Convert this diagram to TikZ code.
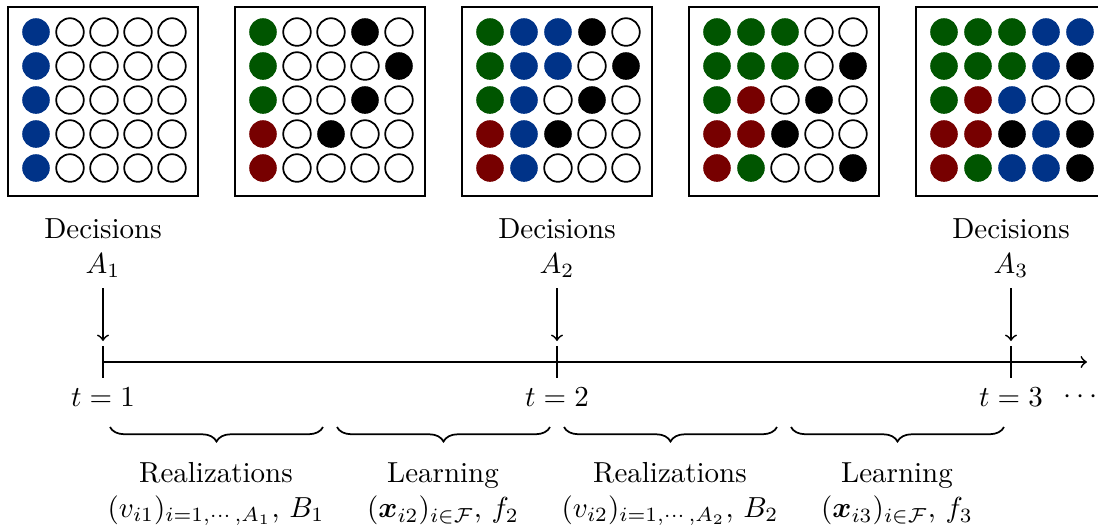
\documentclass[tikz,border=0pt]{standalone}
\usepackage{amsmath , amssymb}
\usepackage{tikz}
\usetikzlibrary{positioning, arrows, decorations.pathreplacing}

\definecolor{dblue}{RGB}{0,51,136}
\definecolor{dgreen}{RGB}{0,85,0}
\definecolor{dred}{RGB}{119,0,0}

\tikzset{
	cb/.style={fill=dblue},
	cg/.style={fill=dgreen},
	cr/.style={fill=dred},
	ck/.style={fill=black},
	co/.style={draw=black, fill=white, line width=0.6pt},
	board/.style={draw=black, line width=0.7pt},
	phase/.style={align=center},
}

% #1 = centre x of the board, #2 = rows of cells
\newcommand{\drawboard}[2]{%
	\draw[board] (#1-95,7) rectangle (#1+95,196);
	\foreach \row [count=\r] in {#2}{
		\foreach \c [count=\k] in \row{
			\path[\c] (#1+34*\k-101, 34*\r-2) circle (4.76pt);
		}
	}
}

\begin{document}
\begin{tikzpicture}[x=0.345pt, y=-0.345pt, semithick]
	\useasboundingbox (0,0) rectangle (1098,527);

	\drawboard{103}{{cb,co,co,co,co},{cb,co,co,co,co},{cb,co,co,co,co},{cb,co,co,co,co},{cb,co,co,co,co}}
	\drawboard{330}{{cg,co,co,ck,co},{cg,co,co,co,ck},{cg,co,co,ck,co},{cr,co,ck,co,co},{cr,co,co,co,co}}
	\drawboard{557}{{cg,cb,cb,ck,co},{cg,cb,cb,co,ck},{cg,cb,co,ck,co},{cr,cb,ck,co,co},{cr,cb,co,co,co}}
	\drawboard{784}{{cg,cg,cg,co,co},{cg,cg,cg,co,ck},{cg,cr,co,ck,co},{cr,cr,ck,co,co},{cr,cg,co,co,ck}}
	\drawboard{1011}{{cg,cg,cg,cb,cb},{cg,cg,cg,cb,ck},{cg,cr,cb,co,co},{cr,cr,ck,cb,ck},{cr,cg,cb,cb,ck}}

	% time axis
	\coordinate (t1) at (103,362);
	\coordinate (t2) at (557,362);
	\coordinate (t3) at (1011,362);
	\coordinate (tend) at (1087,362);
	\draw[->] (t1) -- (tend);
	\foreach \t in {t1,t2,t3}
		\draw (\t) ++(0,-16) -- ++(0,32);

	\node[phase] (dec1) at (103,248) {Decisions\\$A_1$};
	\node[phase] (dec2) at (557,248) {Decisions\\$A_2$};
	\node[phase] (dec3) at (1011,248) {Decisions\\$A_3$};
	\coordinate (a1) at (103,341);
	\coordinate (a2) at (557,341);
	\coordinate (a3) at (1011,341);
	\draw[->] (dec1) -- (a1);
	\draw[->] (dec2) -- (a2);
	\draw[->] (dec3) -- (a3);

	\node (lt1) at (103,397) {$t=1$};
	\node (lt2) at (557,397) {$t=2$};
	\node (lt3) at (1011,397) {$t=3$};
	\node (dots) at (1083,397) {$\cdots$};

	% phases between decisions
	\coordinate (b1a) at (110,427); \coordinate (b1b) at (323,427);
	\coordinate (b2a) at (337,427); \coordinate (b2b) at (550,427);
	\coordinate (b3a) at (564,427); \coordinate (b3b) at (777,427);
	\coordinate (b4a) at (791,427); \coordinate (b4b) at (1004,427);
	\foreach \b in {1,...,4}
		\draw[decorate, decoration={brace, mirror, amplitude=5pt}] (b\b a) -- (b\b b);

	\node[phase] (ph1) at (216,494) {Realizations\\$(v_{i1})_{i=1,\cdots,A_1}$, $B_1$};
	\node[phase] (ph2) at (443,494) {Learning\\$(\boldsymbol{x}_{i2})_{i\in\mathcal{F}}$, $f_2$};
	\node[phase] (ph3) at (670,494) {Realizations\\$(v_{i2})_{i=1,\cdots,A_2}$, $B_2$};
	\node[phase] (ph4) at (897,494) {Learning\\$(\boldsymbol{x}_{i3})_{i\in\mathcal{F}}$, $f_3$};
\end{tikzpicture}
\end{document}
